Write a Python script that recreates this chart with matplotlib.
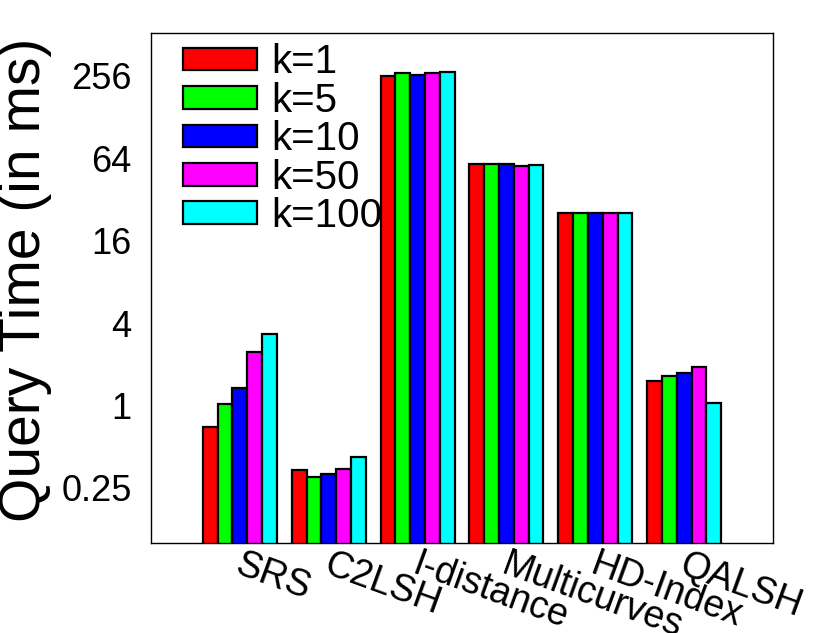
import matplotlib
matplotlib.use("Agg")
import matplotlib.pyplot as plt
import matplotlib.transforms as mtransforms
import numpy as np

plt.rcParams['font.family'] = ['Liberation Sans', 'DejaVu Sans']

# data (query time in ms)
methods = ['SRS', 'C2LSH', 'I-distance', 'Multicurves', 'HD-Index', 'QALSH']
k_labels = ['k=1', 'k=5', 'k=10', 'k=50', 'k=100']
k1 = [0.70, 0.338, 257, 57.8, 25.4, 1.51]
k5 = [1.03, 0.299, 270, 58.1, 25.4, 1.64]
k10 = [1.34, 0.316, 259, 58.1, 25.4, 1.72]
k50 = [2.45, 0.345, 267, 56.5, 25.4, 1.91]
k100 = [3.31, 0.418, 275, 56.9, 25.4, 1.05]
series = [k1, k5, k10, k50, k100]
colors = ['#ff0000', '#00ff00', '#0000ff', '#ff00ff', '#00ffff']

yticks = [0.25, 1, 4, 16, 64, 256]
ytick_labels = ['0.25', '1', '4', '16', '64', '256']

fig = plt.figure(figsize=(8.22, 6.33), dpi=100)
ax = fig.add_axes([0.1837, 0.1422, 0.7567, 0.8061])

x = np.arange(1, len(methods) + 1)
w = 1 / 6
for i, (vals, col, lab) in enumerate(zip(series, colors, k_labels)):
    ax.bar(x + (i - 2) * w, vals, width=w, color=col, edgecolor='black',
           linewidth=1.6, label=lab, zorder=2)

ax.set_yscale('log', base=2)
ax.set_ylim(0.099, 530)
ax.set_xlim(0, 7)
ax.set_yticks(yticks)
ax.set_yticklabels(ytick_labels)
ax.yaxis.set_minor_locator(matplotlib.ticker.NullLocator())
ax.tick_params(axis='y', length=0, pad=14, labelsize=26)

ax.set_xticks(x)
ax.set_xticklabels(methods, rotation=-20, ha='left', va='top',
                   rotation_mode='anchor', fontsize=27)
ax.tick_params(axis='x', length=0, pad=3)
# nudge the slanted labels a little to the right
shift = mtransforms.ScaledTranslation(3 / 100, 0, fig.dpi_scale_trans)
for t in ax.get_xticklabels():
    t.set_transform(t.get_transform() + shift)

for s in ax.spines.values():
    s.set_linewidth(1.0)

ax.set_ylabel('Query Time (in ms)', fontsize=41)
ax.yaxis.set_label_coords(-0.159, 0.515)

ax.legend(loc='upper left', bbox_to_anchor=(0.051, 0.979), frameon=False,
          fontsize=29, handlelength=1.84, handleheight=0.49,
          handletextpad=0.37, labelspacing=0.01, borderpad=0,
          borderaxespad=0)

fig.savefig('out.png', dpi=100)
